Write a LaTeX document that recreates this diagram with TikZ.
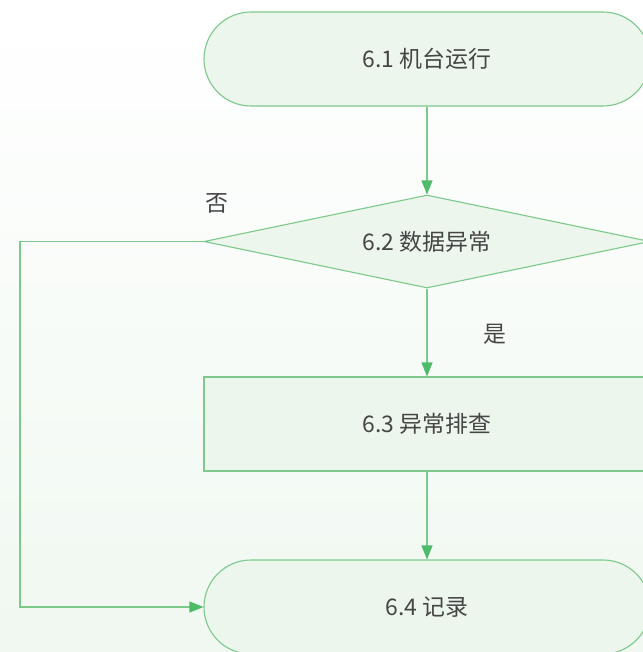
\documentclass[tikz,border=0pt]{standalone}
\usepackage{fontspec}
\setmainfont{Noto Sans CJK SC}
\usetikzlibrary{shapes.geometric,arrows.meta}
\definecolor{lineGreen}{HTML}{7CC98B}
\definecolor{tipGreen}{HTML}{4DBB69}
\definecolor{boxGreen}{HTML}{ECF6EC}
\definecolor{bgGreen}{HTML}{F0F8F1}
\definecolor{textGray}{HTML}{454545}
\tikzset{
  terminal/.style={draw=lineGreen,fill=boxGreen,line width=1.1bp,rounded corners=47bp,
    minimum width=446bp,minimum height=94bp,text=textGray,font=\fontsize{23}{26}\selectfont},
  decision/.style={diamond,aspect=4.8,draw=lineGreen,fill=boxGreen,line width=1.1bp,inner sep=0pt,
    minimum width=446bp,minimum height=93bp,text=textGray,font=\fontsize{23}{26}\selectfont},
  process/.style={draw=lineGreen,fill=boxGreen,line width=1.1bp,
    minimum width=446bp,minimum height=94bp,text=textGray,font=\fontsize{23}{26}\selectfont},
  flow/.style={draw=lineGreen,line width=1.1bp,-{Triangle[length=14bp,width=11bp,color=tipGreen]}},
  tag/.style={text=textGray,font=\fontsize{23}{26}\selectfont}
}
\begin{document}
\begin{tikzpicture}[x=1bp,y=-1bp]
\useasboundingbox (0,0) rectangle (643,652);
\clip (0,0) rectangle (643,652);
\shade [top color=white,bottom color=bgGreen] (0,0) rectangle (643,652);
% nodes
\node [terminal] (start) at (427,59) {6.1 机台运行};
\node [decision] (check) at (427,241.5) {6.2 数据异常};
\node [process] (inspect) at (427,424) {6.3 异常排查};
\node [terminal] (record) at (427,607) {6.4 记录};
\coordinate (loop) at (20,241.5);
% connectors
\draw [flow] (start) -- (check);
\draw [flow] (check) -- (inspect);
\draw [flow] (inspect) -- (record);
\draw [flow] (check.west) -- (loop) |- (record.west);
\node [tag] (yes) at (495,334) {是};
\node [tag] (no) at (217,203) {否};
\end{tikzpicture}
\end{document}
